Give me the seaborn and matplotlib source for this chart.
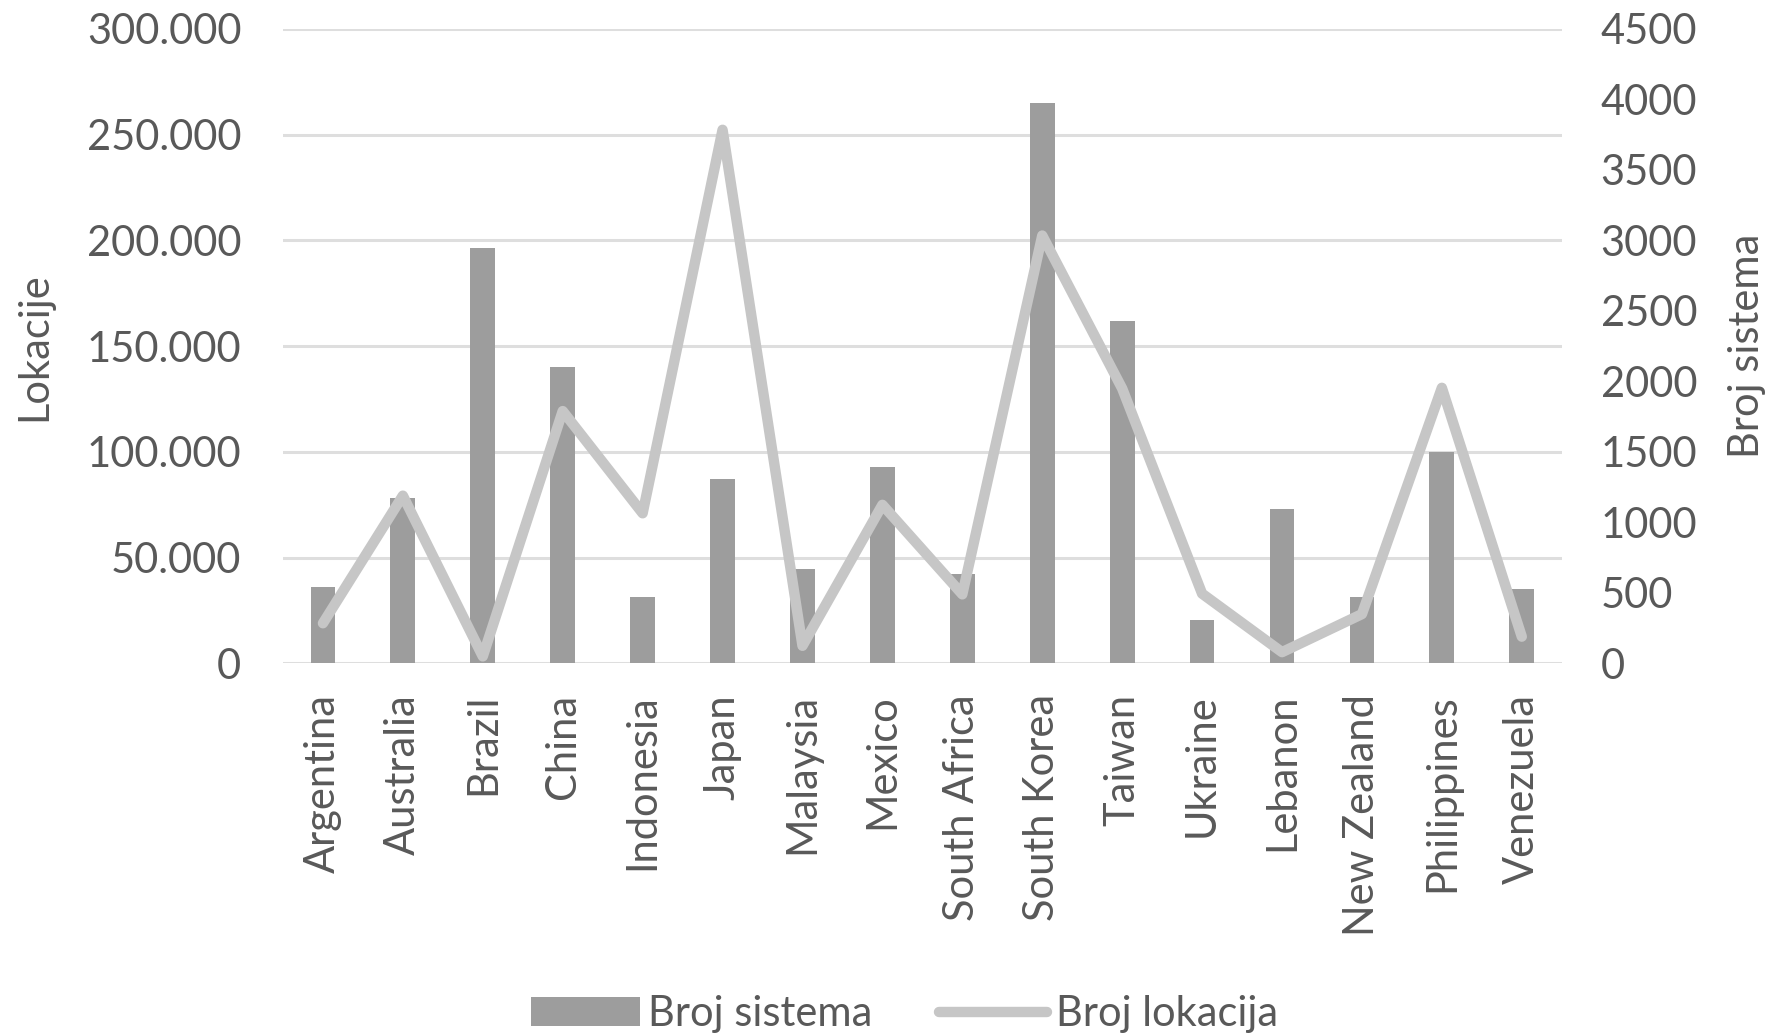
import matplotlib
matplotlib.use("Agg")
import matplotlib.pyplot as plt
from matplotlib.ticker import FuncFormatter, MultipleLocator
from matplotlib.patches import Patch
from matplotlib.lines import Line2D
import seaborn as sns
import pandas as pd

countries = ["Argentina", "Australia", "Brazil", "China", "Indonesia", "Japan",
             "Malaysia", "Mexico", "South Africa", "South Korea", "Taiwan",
             "Ukraine", "Lebanon", "New Zealand", "Philippines", "Venezuela"]
broj_sistema = [36000, 78000, 196500, 140000, 31500, 87000, 44500, 93000,
                42500, 265000, 162000, 20500, 73000, 31500, 100000, 35000]
broj_lokacija = [285, 1190, 50, 1790, 1065, 3785, 125, 1125, 490, 3035,
                 1950, 495, 80, 350, 1955, 190]
bar_label = "Broj sistema"
line_label = "Broj lokacija"
left_label = "Lokacije"
right_label = "Broj sistema"

df = pd.DataFrame({"country": countries, "sistema": broj_sistema, "lokacija": broj_lokacija})

sns.set_theme(style="white")
plt.rcParams["font.family"] = ["Lato", "DejaVu Sans"]

text_col = "#595959"
bar_col = "#9d9d9d"
line_col = "#c6c6c6"
grid_col = "#dedede"

fig = plt.figure(figsize=(17.91, 10.35), dpi=100)
ax = fig.add_axes([0.158, 0.359, 0.714, 0.613])

sns.barplot(data=df, x="country", y="sistema", ax=ax, color=bar_col,
            width=0.31, saturation=1, edgecolor="none", zorder=2)
ax.set_ylim(0, 300000)
ax.yaxis.set_major_locator(MultipleLocator(50000))
ax.yaxis.set_major_formatter(FuncFormatter(lambda v, p: f"{int(v):,}".replace(",", ".")))
ax.grid(axis="y", color=grid_col, linewidth=2.2, zorder=0)
ax.set_axisbelow(True)
for s in ax.spines.values():
    s.set_visible(False)
ax.tick_params(axis="both", length=0, labelsize=30, labelcolor=text_col)
ax.tick_params(axis="y", pad=30)
ax.tick_params(axis="x", pad=22)
ax.set_xlabel("")
ax.set_ylabel(left_label, fontsize=30, color=text_col, labelpad=24)
plt.setp(ax.get_xticklabels(), rotation=90)
ax.set_xlim(-0.5, len(countries) - 0.5)

ax2 = ax.twinx()
sns.pointplot(data=df, x="country", y="lokacija", ax=ax2, color=line_col,
              markers="", errorbar=None, linewidth=7.5,
              solid_capstyle="round", solid_joinstyle="round")
ax2.set_ylim(0, 4500)
ax2.yaxis.set_major_locator(MultipleLocator(500))
for s in ax2.spines.values():
    s.set_visible(False)
ax2.grid(False)
ax2.tick_params(axis="y", length=0, labelsize=30, labelcolor=text_col, pad=28)
ax2.set_ylabel(right_label, fontsize=30, color=text_col, labelpad=22)
ax2.set_xlabel("")
ax.set_xlim(-0.5, len(countries) - 0.5)

handles = [Patch(facecolor=bar_col, edgecolor="none"),
           Line2D([0], [0], color=line_col, linewidth=7.5, solid_capstyle="round")]
fig.legend(handles, [bar_label, line_label], loc="center",
           bbox_to_anchor=(0.505, 0.02), ncol=2, frameon=False, fontsize=30,
           labelcolor=text_col, handlelength=2.6, handletextpad=0.2, columnspacing=1.6)

fig.savefig("out.png", dpi=100)
